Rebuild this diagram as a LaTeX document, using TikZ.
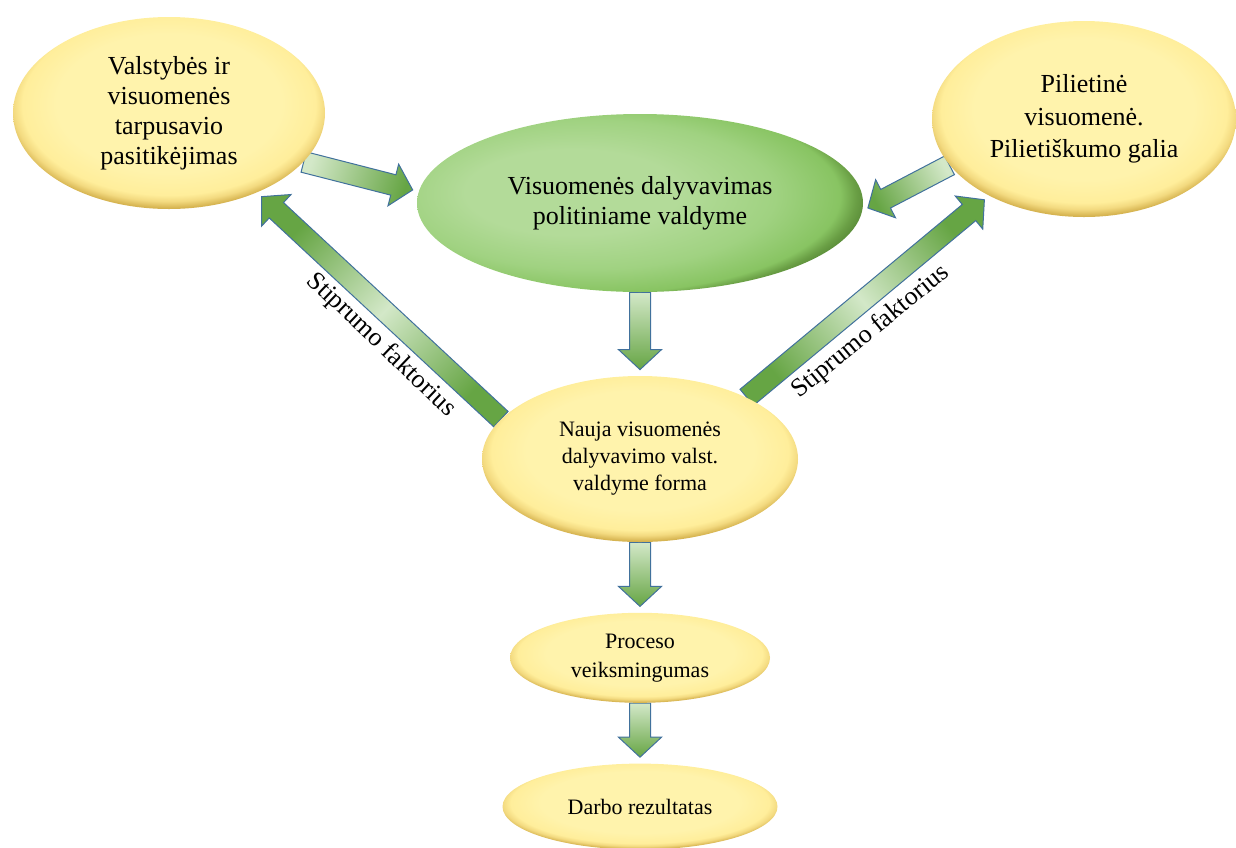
\documentclass[tikz,border=0pt]{standalone}
\usepackage{fontspec}
\setmainfont{Liberation Serif}
\usepackage{xcolor}
\usepackage{tikz}
\usetikzlibrary{shapes,positioning,calc,backgrounds}

\definecolor{yellowin}{HTML}{FFF3AC}
\definecolor{yellowmid}{HTML}{FFEE9B}
\definecolor{yellowedge}{HTML}{F3DA80}
\definecolor{yellowrim}{HTML}{D7B552}
\definecolor{yellowdark}{HTML}{B3923A}
\definecolor{greenin}{HTML}{B3DB99}
\definecolor{greenmid}{HTML}{A0D281}
\definecolor{greenedge}{HTML}{88C462}
\definecolor{greenrim}{HTML}{6A9F45}
\definecolor{greendark}{HTML}{4B7B2D}
\definecolor{arrowdark}{HTML}{66A544}
\definecolor{arrowlight}{HTML}{D3E8C8}
\definecolor{arrowblue}{HTML}{41719C}

\pgfdeclareradialshading{yellowbevel}{\pgfpoint{0bp}{4bp}}{%
  color(0bp)=(yellowin); color(18bp)=(yellowin); color(23.5bp)=(yellowmid);
  color(25bp)=(yellowedge); color(26.5bp)=(yellowrim); color(29bp)=(yellowdark);
  color(50bp)=(yellowdark)}
\pgfdeclareradialshading{greenbevel}{\pgfpoint{-10bp}{4bp}}{%
  color(0bp)=(greenin); color(12bp)=(greenin); color(21bp)=(greenmid);
  color(27bp)=(greenedge); color(28.5bp)=(greenrim); color(30.5bp)=(greendark);
  color(50bp)=(greendark)}

\begin{document}
\begin{tikzpicture}[x=0.5pt, y=-0.5pt,
        yellownode/.style={ellipse, shade, shading=yellowbevel, inner sep=0pt, align=center, font=\fontsize{11}{13.5}\selectfont},
        greennode/.style={ellipse, shade, shading=greenbevel, inner sep=0pt, align=center, font=\fontsize{13}{15}\selectfont},
        barrow/.style={draw=arrowblue, line width=0.5pt, shading angle=#1,
            to path={($(\tikztotarget)!3pt!(\tikztostart)$) coordinate (tip)
                ($(tip)!10pt!(\tikztostart)$) coordinate (base)
                ($(\tikztostart)!5.25pt!90:(tip)$) -- ($(base)!5.25pt!90:(tip)$) -- ($(base)!10.75pt!90:(tip)$) -- (tip)
                -- ($(base)!10.75pt!-90:(tip)$) -- ($(base)!5.25pt!-90:(tip)$) -- ($(\tikztostart)!5.25pt!-90:(tip)$) -- cycle}},
        shortarrow/.style={top color=arrowlight, bottom color=arrowdark, barrow=#1},
        longarrow/.style={top color=arrowdark, bottom color=arrowdark, middle color=arrowlight, barrow=#1},
        factor/.style={font=\fontsize{13}{15}\selectfont}
        ]
    \useasboundingbox (0,0) rectangle (1236,847);

        % Nodes
        \node[yellownode, minimum width=156pt, minimum height=96pt, font=\fontsize{13}{15}\selectfont] (trust) at (169,113) {Valstybės ir\\visuomenės\\tarpusavio\\pasitikėjimas};
        \node[greennode, minimum width=223pt, minimum height=89pt] (participation) at (640,203) {Visuomenės dalyvavimas\\politiniame valdyme};
        \node[yellownode, minimum width=152pt, minimum height=98pt, font=\fontsize{13}{16.25}\selectfont] (civic) at (1084,119) {Pilietinė\\visuomenė.\\Pilietiškumo galia};
        \node[yellownode, minimum width=158pt, minimum height=83pt] (newform) at (640,459) {Nauja visuomenės\\dalyvavimo valst.\\valdyme forma};
        \node[yellownode, minimum width=130pt, minimum height=45pt, font=\fontsize{11}{14.5}\selectfont] (process) [below=35pt of newform] {Proceso\\veiksmingumas};
        \node[yellownode, minimum width=137.5pt, minimum height=43pt] (result) [below=30pt of process] {Darbo rezultatas};

        \node[factor, rotate=-43.7] (leftfactor) at (381,345) {Stiprumo faktorius};
        \node[factor, rotate=39.3] (rightfactor) at (871,332) {Stiprumo faktorius};

        % Arrows
        \begin{scope}[on background layer]
        \draw[shortarrow=72] (trust.-20) to (participation.177);
        \draw[shortarrow=-61] (civic.-161) to (participation.-2);
        \draw[shortarrow=0] (participation.south) to (newform.north);
        \draw[longarrow=46] (newform.164) to (trust.-42);
        \draw[longarrow=129] (newform.30) to (civic.-141);
        \draw[shortarrow=0] (newform.south) to (process.north);
        \draw[shortarrow=0] (process.south) to (result.north);
        \end{scope}

    \end{tikzpicture}
\end{document}
